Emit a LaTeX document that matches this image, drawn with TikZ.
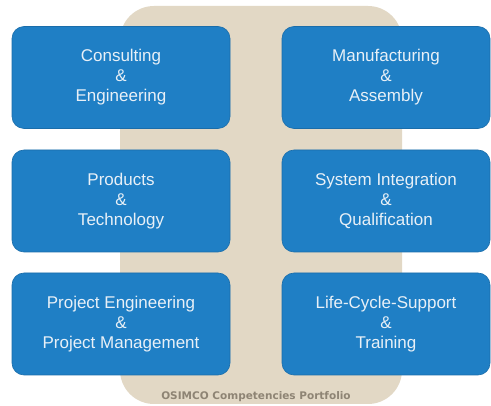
\documentclass[tikz,border=0pt]{standalone}
\usepackage{fontspec}
\setmainfont{Liberation Sans}
\newfontfamily\capfont{DejaVu Sans}
\definecolor{boxblue}{HTML}{1F7FC5}
\definecolor{boxedge}{HTML}{1A6DAA}
\definecolor{beige}{HTML}{E2D8C5}
\definecolor{txtwhite}{HTML}{E8F0F7}
\definecolor{capgrey}{HTML}{8E8474}
\begin{document}
\begin{tikzpicture}[x=1pt,y=-1pt,
  compbox/.style={draw=boxedge, line width=0.6pt, fill=boxblue, rounded corners=12pt,
    minimum width=218pt, minimum height=102pt, inner sep=0pt, text=txtwhite,
    align=center, font=\fontsize{17}{20}\selectfont}]
\useasboundingbox (0,0) rectangle (491,406);
\fill[white] (0,0) rectangle (491,406);
\fill[beige, rounded corners=34pt] (120,6) rectangle (402,404);
\node[compbox] (ce) at (121,77.5) {Consulting\\\&\\Engineering};
\node[compbox, minimum width=208pt] (ma) at (386,77.5) {Manufacturing\\\&\\Assembly};
\node[compbox] (pt) at (121,201) {Products\\\&\\Technology};
\node[compbox, minimum width=208pt] (si) at (386,201) {System Integration\\\&\\Qualification};
\node[compbox] (pe) at (121,324) {Project Engineering\\\&\\Project Management};
\node[compbox, minimum width=208pt] (lc) at (386,324) {Life-Cycle-Support\\\&\\Training};
\node[text=capgrey, font=\capfont\bfseries\fontsize{10.5}{12}\selectfont, inner sep=0pt] (cap) at (256,397) {OSIMCO Competencies Portfolio};
\end{tikzpicture}
\end{document}
